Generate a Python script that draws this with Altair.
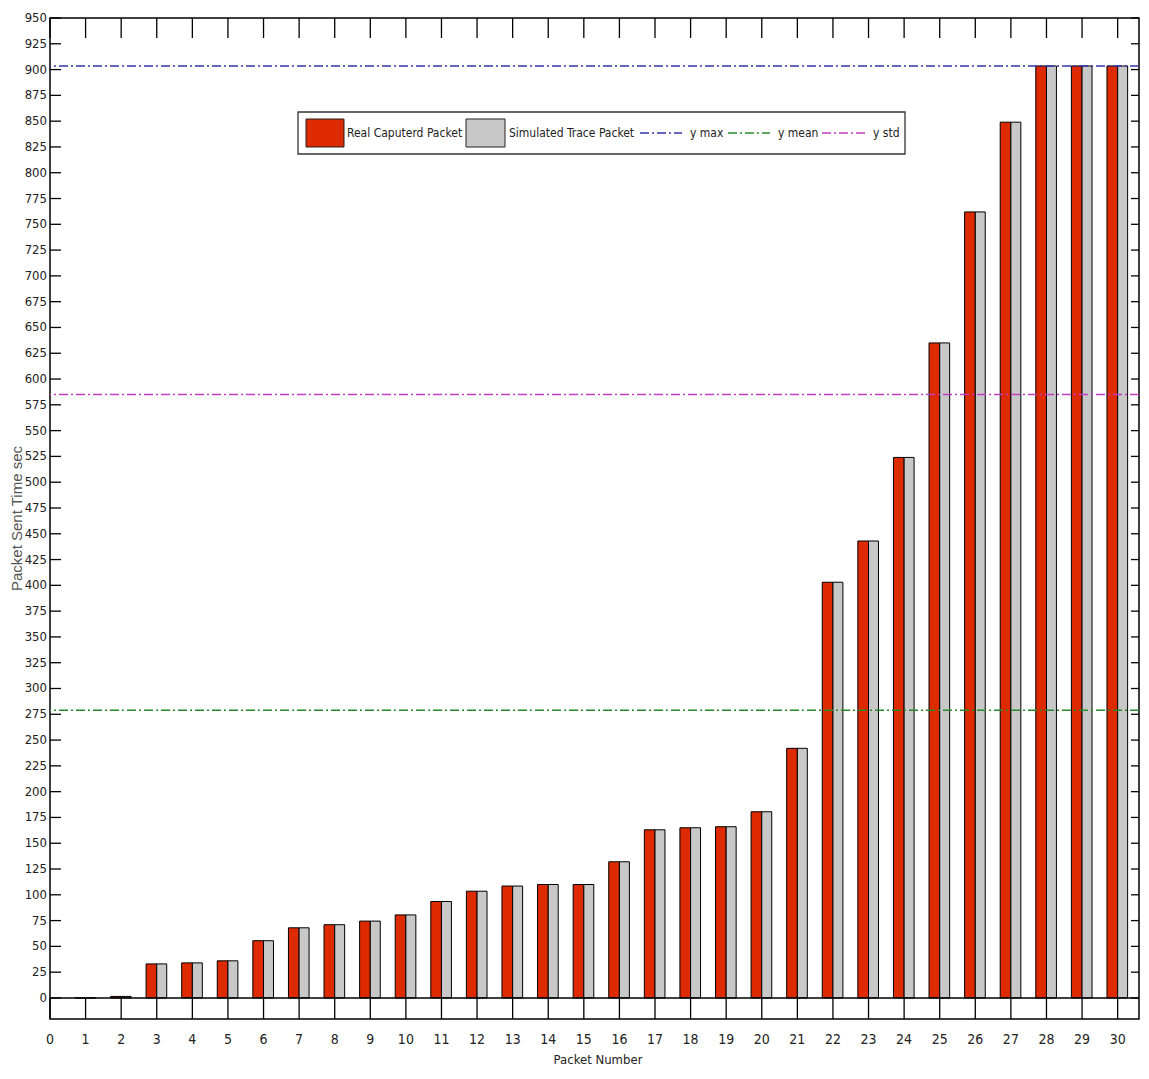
import altair as alt
import pandas as pd

# ---------------- data ----------------
packets = list(range(1, 31))
real_captured = [0, 1.5, 33, 34, 36, 55.5, 68, 71, 74.5, 80.5, 93.5, 103.5, 108.5, 110, 110,
                 132, 163, 165, 166, 180.5, 242, 403, 443, 524, 635, 762, 849, 903.5, 903.5, 903.5]
simulated_trace = [0, 1.5, 33, 34, 36, 55.5, 68, 71, 74.5, 80.5, 93.5, 103.5, 108.5, 110, 110,
                   132, 163, 165, 166, 180.5, 242, 403, 443, 524, 635, 762, 849, 903.5, 903.5, 903.5]
ref_names = ["y max", "y mean", "y std"]
ref_values = [903.5, 279, 585]
x_ticks = list(range(0, 31))
y_ticks = list(range(0, 951, 25))
series_names = ["Real Caputerd Packet", "Simulated Trace Packet"]
x_title = "Packet Number"
y_title = "Packet Sent Time sec"

# ---------------- style ----------------
W, H = 1089, 1001
RED, GRAY = "#dd2a00", "#c8c8c8"
REF_COLORS = ["#3434b0", "#2a8a2a", "#c03cc0"]
DASH = [9, 3, 2, 3]
NARROW = "DejaVu Sans Condensed, Liberation Sans Narrow, sans-serif"

xs = alt.Scale(domain=[0, 30.6], nice=False, zero=False)
ys = alt.Scale(domain=[-20.4, 950], nice=False, zero=False)

rows = []
for n, r, s in zip(packets, real_captured, simulated_trace):
    rows.append({"packet": n, "series": series_names[0], "value": r, "off0": -0.3, "off1": 0.0, "col": RED})
    rows.append({"packet": n, "series": series_names[1], "value": s, "off0": 0.0, "off1": 0.28, "col": GRAY})
bars_df = pd.DataFrame(rows)

bars = alt.Chart(bars_df).transform_calculate(
    x0="datum.packet + datum.off0", x1="datum.packet + datum.off1", zero="0"
).mark_bar(stroke="black", strokeWidth=1).encode(
    x=alt.X("x0:Q", scale=xs, axis=None),
    x2="x1:Q",
    y=alt.Y("value:Q", scale=ys, axis=None),
    y2="zero:Q",
    fill=alt.Fill("col:N", scale=None, legend=None),
)

tick_y_df = pd.DataFrame({"v": y_ticks})
tick_x_df = pd.DataFrame({"v": x_ticks})

left_ticks = alt.Chart(tick_y_df).mark_rule(color="black", strokeWidth=1.3).encode(
    y=alt.Y("v:Q", scale=ys, axis=None), x=alt.value(0), x2=alt.value(11))
right_ticks = alt.Chart(tick_y_df).mark_rule(color="black", strokeWidth=1.3).encode(
    y=alt.Y("v:Q", scale=ys, axis=None), x=alt.value(W - 8), x2=alt.value(W))
top_ticks = alt.Chart(tick_x_df).mark_rule(color="black", strokeWidth=1.3).encode(
    x=alt.X("v:Q", scale=xs, axis=None), y=alt.value(0), y2=alt.value(20))
bottom_ticks = alt.Chart(tick_x_df).mark_rule(color="black", strokeWidth=1.3).encode(
    x=alt.X("v:Q", scale=xs, axis=None), y=alt.value(H - 21), y2=alt.value(H))

y_labels = alt.Chart(tick_y_df).mark_text(
    align="right", baseline="middle", font=NARROW, fontSize=13, color="#222"
).encode(y=alt.Y("v:Q", scale=ys, axis=None), x=alt.value(-3), text="v:Q")
x_labels = alt.Chart(tick_x_df).mark_text(
    align="center", baseline="middle", font=NARROW, fontSize=14, color="#222"
).encode(x=alt.X("v:Q", scale=xs, axis=None), y=alt.value(H + 21), text="v:Q")

one = pd.DataFrame({"a": [0]})
x_title_mark = alt.Chart(one).mark_text(
    align="center", baseline="middle", font=NARROW, fontSize=13, color="#222", text=x_title
).encode(x=alt.value(548), y=alt.value(H + 41))
y_title_mark = alt.Chart(one).mark_text(
    align="center", baseline="middle", font="Liberation Sans, Arial, sans-serif", fontSize=15,
    color="#555", angle=270, text=y_title
).encode(x=alt.value(-33), y=alt.value(H / 2))

zero_line = alt.Chart(pd.DataFrame({"v": [0]})).mark_rule(color="black", strokeWidth=1.5).encode(
    y=alt.Y("v:Q", scale=ys, axis=None))

ref_df = pd.DataFrame({"name": ref_names, "value": ref_values, "col": REF_COLORS})
ref_lines = alt.Chart(ref_df).mark_rule(strokeWidth=1.5, strokeDash=DASH).encode(
    y=alt.Y("value:Q", scale=ys, axis=None),
    stroke=alt.Stroke("col:N", scale=None, legend=None),
)

# ---------------- manual legend ----------------
LY = 115
legend_layers = [
    alt.Chart(one).mark_rect(fill="white", stroke="#333", strokeWidth=1.3).encode(
        x=alt.value(248), x2=alt.value(855), y=alt.value(94), y2=alt.value(136)),
    alt.Chart(one).mark_rect(fill=RED, stroke="#222", strokeWidth=1).encode(
        x=alt.value(256), x2=alt.value(294), y=alt.value(101), y2=alt.value(129)),
    alt.Chart(one).mark_rect(fill=GRAY, stroke="#222", strokeWidth=1).encode(
        x=alt.value(416), x2=alt.value(455), y=alt.value(101), y2=alt.value(129)),
]
text_items = [(series_names[0], 297), (series_names[1], 459),
              (ref_names[0], 640), (ref_names[1], 728), (ref_names[2], 823)]
for label, tx in text_items:
    legend_layers.append(
        alt.Chart(one).mark_text(align="left", baseline="middle", font=NARROW, fontSize=12,
                                 color="#222", text=label).encode(
            x=alt.value(tx), y=alt.value(LY)))
for (x0, x1), col in zip([(590, 632), (678, 720), (772, 815)], REF_COLORS):
    legend_layers.append(
        alt.Chart(one).mark_rule(color=col, strokeWidth=1.5, strokeDash=DASH).encode(
            x=alt.value(x0), x2=alt.value(x1), y=alt.value(LY)))

chart = alt.layer(
    bars, ref_lines, zero_line, left_ticks, right_ticks, top_ticks, bottom_ticks,
    y_labels, x_labels, x_title_mark, y_title_mark, *legend_layers
).properties(
    width=W, height=H,
    padding={"left": 42, "top": 10, "right": 2, "bottom": 50},
    autosize=alt.AutoSizeParams(type="none"),
    background="white",
).configure_view(stroke="black", strokeWidth=1.5)

chart.save("out.html", embed_options={"renderer": "svg", "actions": False})
